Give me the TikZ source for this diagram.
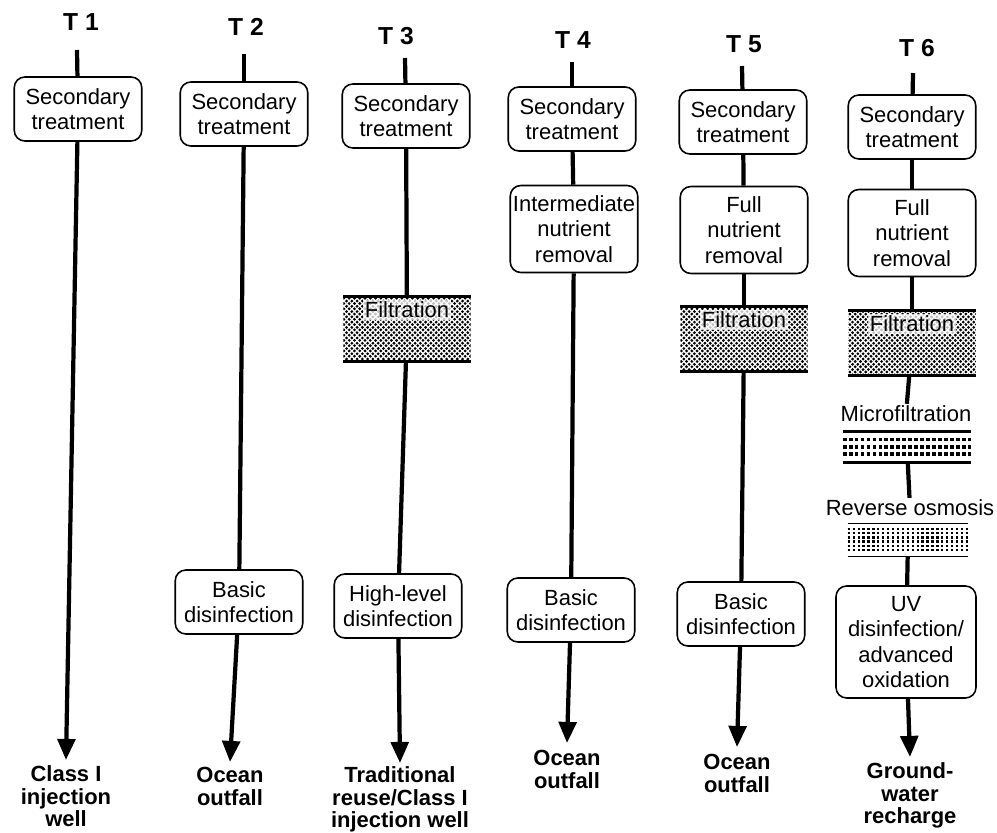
\documentclass[tikz,border=0pt]{standalone}
\usepackage{fontspec}
\setmainfont{Liberation Sans}
\usetikzlibrary{arrows.meta,positioning,patterns}
\pgfdeclarepatternformonly{stipple}{\pgfqpoint{-1pt}{-1pt}}{\pgfqpoint{4pt}{4pt}}{\pgfqpoint{3pt}{3pt}}{%
  \pgfpathcircle{\pgfqpoint{0.75pt}{0.8pt}}{0.88pt}%
  \pgfpathcircle{\pgfqpoint{2.25pt}{2.2pt}}{0.88pt}%
  \pgfusepath{fill}}
\tikzset{bx/.style={draw,line width=0.9pt,rounded corners=6pt,align=center,font=\fontsize{12.5}{14.5}\selectfont,minimum width=2.55cm,minimum height=1.28cm,inner sep=1pt,fill=white},
 bx3/.style={bx,minimum height=1.74cm},
 hd/.style={font=\fontsize{14}{16}\selectfont\bfseries},
 dest/.style={align=center,font=\fontsize{12.5}{12.8}\selectfont\bfseries,inner sep=1pt},
 flow/.style={line width=2.4pt},ar/.style={flow,-{Triangle[length=12pt,width=10pt]}},
 filt/.style={pattern=stipple,minimum width=2.55cm,minimum height=1.3cm,inner sep=0pt},
 flbl/.style={font=\fontsize{12.5}{14.5}\selectfont,fill=white,fill opacity=.75,text opacity=1,inner sep=1pt,anchor=north,yshift=-2pt},
 txt/.style={font=\fontsize{12.5}{14.5}\selectfont,inner sep=1pt},
 rim/.style={line width=1.7pt},
 mfdot/.style={line width=2.2pt,dash pattern=on 2.2pt off 1.2pt},rodot/.style={line width=1.3pt,dash pattern=on 1.3pt off 1.5pt}}

\begin{document}
\begin{tikzpicture}[x=0.02cm,y=-0.02cm]
\useasboundingbox (0,0) rectangle (997,832);
% headers
\node[hd](h1) at (81,22){T 1};\node[hd](h2) at (246,27){T 2};\node[hd](h3) at (396,36){T 3};
\node[hd](h4) at (573,40){T 4};\node[hd](h5) at (744,44){T 5};\node[hd](h6) at (917,48){T 6};
% T1
\coordinate(c1) at (77,50);\node[bx](s1) at (78,109){Secondary\\treatment};
\coordinate(e1) at (66,760);\node[dest,below=2pt of e1](d1){Class I\\injection\\well};
\draw[flow](c1)--(s1);\draw[ar](s1)--(e1);
% T2
\coordinate(c2) at (244,54);\node[bx](s2) at (244,114){Secondary\\treatment};
\node[bx](b2) at (239,602){Basic\\disinfection};
\coordinate(e2) at (230,762);\node[dest,below=2pt of e2](d2){Ocean\\outfall};
\draw[flow](c2)--(s2);\draw[flow](s2)--(b2);\draw[ar](b2)--(e2);
% T3
\coordinate(c3) at (405,58);\node[bx](s3) at (406,116){Secondary\\treatment};
\node[filt](f3) at (407,329){};\node[flbl] at (f3.north){Filtration};
\node[bx](g3) at (398,606){High-level\\disinfection};
\coordinate(e3) at (400,763);\node[dest,below=1pt of e3](d3){Traditional\\reuse/Class I\\injection well};
\draw[flow](c3)--(s3);\draw[flow](s3)--(f3);\draw[flow](f3)--(g3);\draw[ar](g3)--(e3);
% T4
\coordinate(c4) at (572,62);\node[bx](s4) at (572,119){Secondary\\treatment};
\node[bx3](n4) at (574,229){Intermediate\\nutrient\\removal};
\node[bx](b4) at (571,610){Basic\\disinfection};
\coordinate(e4) at (567,743);\node[dest,below=3pt of e4](d4){Ocean\\outfall};
\draw[flow](c4)--(s4);\draw[flow](s4)--(n4);\draw[flow](n4)--(b4);\draw[ar](b4)--(e4);
% T5
\coordinate(c5) at (742,66);\node[bx](s5) at (743,122){Secondary\\treatment};
\node[bx3](n5) at (744,230){Full\\nutrient\\removal};
\node[filt](f5) at (744,339){};\node[flbl] at (f5.north){Filtration};
\node[bx](b5) at (741,614){Basic\\disinfection};
\coordinate(e5) at (737,747);\node[dest,below=3pt of e5](d5){Ocean\\outfall};
\draw[flow](c5)--(s5);\draw[flow](s5)--(n5);\draw[flow](n5)--(f5);\draw[flow](f5)--(b5);\draw[ar](b5)--(e5);
% T6
\coordinate(c6) at (913,73);\node[bx](s6) at (912,127){Secondary\\treatment};
\node[bx3](n6) at (912,233){Full\\nutrient\\removal};
\node[filt](f6) at (912,343){};\node[flbl] at (f6.north){Filtration};
\node[txt](m6l) at (906,414){Microfiltration};
\node[minimum width=2.56cm,minimum height=0.6cm,inner sep=0pt](m6) at (907,447){};
\node[txt](r6l) at (910,508){Reverse osmosis};
\node[minimum width=2.4cm,minimum height=0.64cm,inner sep=0pt](r6) at (908,540){};
\node[bx,minimum width=2.8cm,minimum height=2.24cm](u6) at (906,642){UV\\disinfection/\\advanced\\oxidation};
\coordinate(e6) at (910,757);\node[dest,below=2pt of e6](d6){Ground-\\water\\recharge};
\draw[flow](c6)--(s6);\draw[flow](s6)--(n6);\draw[flow](n6)--(f6);\draw[flow](f6)--(m6l);
\draw[flow](m6)--(r6l);\draw[flow](r6)--(u6);\draw[ar](u6)--(e6);
% band edges and dots
\foreach \n in {f3,f5,f6,m6}\draw[rim](\n.north west)--(\n.north east)(\n.south west)--(\n.south east);
\draw[line width=0.9pt](r6.north west)--(r6.north east)(r6.south west)--(r6.south east);
\foreach \r in {4.5,8.5,12.5}\draw[mfdot]([yshift=-\r pt]m6.north west)--([yshift=-\r pt]m6.north east);
\foreach \r in {3,5.4,7.8,10.2,12.6,15}\draw[rodot]([yshift=-\r pt]r6.north west)--([yshift=-\r pt]r6.north east);
\end{tikzpicture}
\end{document}
